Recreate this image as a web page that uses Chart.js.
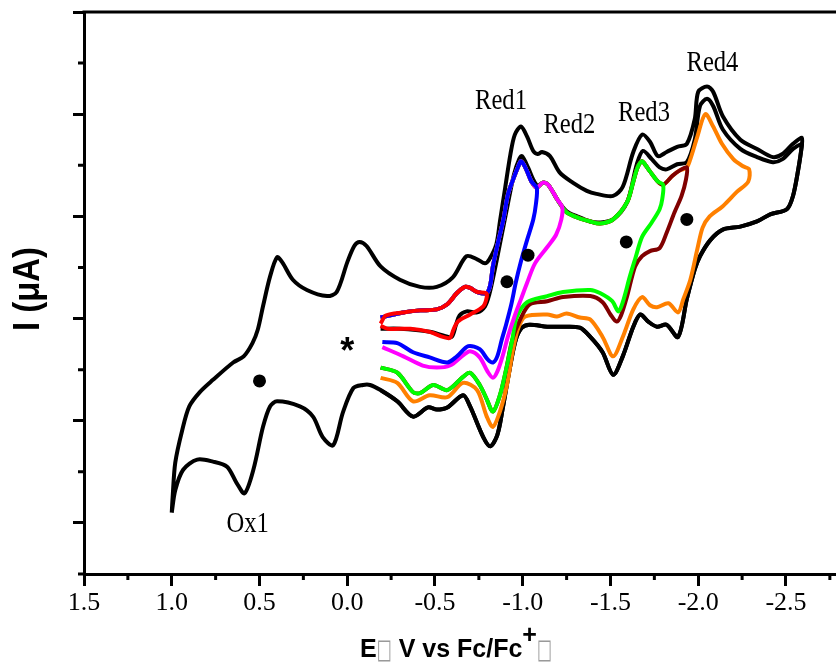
<!DOCTYPE html>
<html>
<head>
<meta charset="utf-8">
<script src="https://cdn.jsdelivr.net/npm/chart.js@4.4.0/dist/chart.umd.min.js"></script>
<style>
  html, body { margin: 0; padding: 0; background: #fff; overflow: hidden; }
  #cv { display: block; }
</style>
</head>
<body>
<canvas id="cv" width="836" height="668"></canvas>
<script>
// axis ticks (potential is plotted reversed, current has no labels)
const eTicks = [1.5, 1.0, 0.5, 0.0, -0.5, -1.0, -1.5, -2.0, -2.5];
const eMinor = [1.25, 0.75, 0.25, -0.25, -0.75, -1.25, -1.75, -2.25, -2.75];
const iTicks = [30, 20, 10, 0, -10, -20];
const iMinor = [25, 15, 5, -5, -15, -25];

// full scan (black, +1.0 V ... -2.6 V)
const fullUpperE = [1.00, 0.995, 0.98, 0.94, 0.90, 0.84, 0.765, 0.65, 0.59, 0.54, 0.51, 0.48, 0.44, 0.40, 0.37, 0.31, 0.23, 0.115, 0.06, 0.00, -0.04, -0.07, -0.11, -0.19, -0.30, -0.415, -0.51, -0.60, -0.68, -0.74, -0.785, -0.81, -0.85, -0.87, -0.90, -0.93, -0.955, -0.99, -1.025, -1.06, -1.085, -1.11, -1.155, -1.21, -1.285, -1.365, -1.42, -1.515, -1.57, -1.63, -1.68, -1.725, -1.77, -1.82, -1.88, -1.935, -1.98, -2.00, -2.05, -2.085, -2.14, -2.24, -2.335, -2.425, -2.48, -2.54, -2.59];
const fullUpperI = [-19.0, -17.5, -14.1, -10.9, -8.6, -7.2, -6.0, -4.3, -3.7, -2.4, -1.1, 1.2, 4.1, 6.0, 5.5, 3.8, 2.8, 2.2, 2.6, 5.5, 7.1, 7.5, 7.1, 5.1, 3.8, 3.1, 3.1, 4.0, 6.1, 5.8, 5.4, 5.8, 7.3, 9.5, 12.8, 16.1, 18.0, 18.8, 17.8, 16.4, 16.1, 16.3, 15.9, 14.3, 13.3, 12.5, 12.2, 12.0, 12.9, 16.3, 18.0, 17.3, 15.9, 16.3, 16.8, 17.1, 19.5, 22.2, 22.7, 22.2, 19.8, 17.5, 16.6, 15.8, 16.1, 17.1, 17.7];
const fullReturnE = [-2.59, -2.57, -2.54, -2.505, -2.41, -2.335, -2.24, -2.14, -2.07, -2.01, -1.98, -1.935, -1.885, -1.82, -1.765, -1.715, -1.67, -1.63, -1.57, -1.515, -1.455, -1.385, -1.325, -1.23, -1.14, -1.04, -0.995, -0.96, -0.925, -0.885, -0.855, -0.815, -0.775, -0.70, -0.66, -0.57, -0.51, -0.46, -0.375, -0.285, -0.19];
const fullReturnI = [16.9, 14.6, 12.0, 10.7, 10.2, 9.5, 9.0, 8.7, 7.7, 6.1, 4.8, 1.9, -1.8, -0.6, -0.8, -0.3, 0.4, -0.8, -3.7, -5.5, -3.3, -1.8, -0.9, -0.8, -0.8, -0.6, -0.9, -2.1, -5.0, -8.9, -11.4, -12.5, -11.6, -8.6, -7.5, -8.7, -8.9, -8.7, -9.6, -8.1, -7.0];
const fullLeftE = [-0.13, -0.09, -0.035, 0.025, 0.08, 0.14, 0.195, 0.27, 0.40, 0.44, 0.48, 0.535, 0.585, 0.63, 0.685, 0.765, 0.855, 0.935, 0.98, 1.00];
const fullLeftI = [-6.5, -6.5, -6.8, -9.2, -12.4, -11.6, -9.6, -8.6, -8.1, -8.6, -10.6, -14.8, -17.1, -16.1, -14.5, -14.0, -13.8, -14.8, -16.8, -19.0];

// second black scan from -0.19 V to -2.6 V (returns on the full scan)
const secondUpperE = [-0.19, -0.30, -0.47, -0.555, -0.595, -0.62, -0.64, -0.68, -0.74, -0.785, -0.81, -0.835, -0.87, -0.915, -0.95, -0.98, -0.995, -1.03, -1.06, -1.085, -1.115, -1.145, -1.195, -1.25, -1.31, -1.385, -1.44, -1.515, -1.595, -1.65, -1.685, -1.735, -1.78, -1.82, -1.88, -1.935, -1.98, -2.01, -2.05, -2.085, -2.14, -2.24, -2.335, -2.425, -2.48, -2.54, -2.59];
const secondUpperI = [-1.0, -1.0, -1.3, -1.7, -1.8, -0.6, 0.3, 0.7, 0.6, 1.2, 2.4, 4.3, 7.3, 11.2, 14.1, 15.6, 15.9, 14.8, 13.6, 13.0, 13.3, 13.1, 11.7, 10.5, 10.0, 9.5, 9.4, 9.7, 11.4, 15.1, 16.4, 15.6, 14.8, 14.6, 15.1, 15.3, 17.5, 20.8, 21.5, 20.8, 18.5, 16.6, 15.8, 15.3, 15.6, 16.6, 17.1];

// red: -0.19 V to -0.80 V
const redE = [-0.19, -0.22, -0.32, -0.415, -0.51, -0.57, -0.625, -0.67, -0.70, -0.74, -0.79, -0.795, -0.775, -0.70, -0.63, -0.605, -0.585, -0.545, -0.47, -0.36, -0.23, -0.19];
const redI = [-0.5, 0.3, 0.6, 0.8, 0.9, 1.4, 2.5, 3.1, 3.0, 2.6, 2.5, 2.1, 1.2, 0.4, -0.3, -1.1, -1.9, -1.8, -1.3, -1.0, -1.0, -0.7];

// common cathodic branch up to Red1
const scanForwardE = [-0.19, -0.32, -0.415, -0.51, -0.57, -0.625, -0.67, -0.70, -0.74, -0.795, -0.815, -0.83, -0.86, -0.89, -0.915, -0.945, -0.975, -0.99, -1.005, -1.025, -1.05, -1.08];
const scanForwardI = [0.1, 0.6, 0.8, 0.9, 1.4, 2.5, 3.1, 3.0, 2.6, 2.5, 3.3, 5.1, 7.5, 9.7, 12.1, 13.6, 14.9, 15.4, 15.1, 14.4, 13.4, 12.8];

// blue: switch at -1.08 V
const blueReturnE = [-1.075, -1.06, -1.025, -0.99, -0.96, -0.935, -0.905, -0.88, -0.855, -0.83, -0.80, -0.755, -0.69, -0.625, -0.57, -0.47, -0.375, -0.285, -0.20];
const blueReturnI = [11.2, 9.7, 7.7, 5.6, 3.5, 1.4, -0.6, -2.1, -3.7, -4.3, -4.0, -3.0, -2.7, -3.7, -4.3, -3.8, -3.3, -2.4, -2.3];

// cathodic branch Red2 .. Red3
const red3ForwardE = [-1.115, -1.145, -1.195, -1.225, -1.25, -1.31, -1.385, -1.44, -1.515, -1.595, -1.63, -1.655, -1.68, -1.70, -1.725, -1.77, -1.80];
const red3ForwardI = [13.3, 13.1, 11.7, 10.9, 10.4, 9.9, 9.5, 9.3, 9.7, 11.4, 13.4, 14.8, 15.4, 15.0, 14.4, 13.4, 13.1];

// magenta: switch at -1.23 V
const magentaReturnE = [-1.22, -1.19, -1.14, -1.07, -1.025, -0.99, -0.955, -0.915, -0.885, -0.855, -0.83, -0.80, -0.755, -0.70, -0.66, -0.585, -0.51, -0.43, -0.32, -0.20];
const magentaReturnI = [9.7, 8.2, 7.0, 5.4, 3.5, 1.9, 0.3, -1.8, -3.7, -5.2, -5.8, -5.2, -3.8, -3.2, -3.6, -4.6, -4.8, -4.6, -3.7, -2.8];

// green: switch at -1.80 V
const greenReturnE = [-1.795, -1.78, -1.735, -1.68, -1.64, -1.61, -1.57, -1.545, -1.51, -1.44, -1.385, -1.23, -1.14, -1.025, -0.965, -0.94, -0.905, -0.87, -0.83, -0.795, -0.755, -0.70, -0.66, -0.57, -0.49, -0.415, -0.375, -0.285, -0.19];
const greenReturnI = [11.7, 10.7, 9.4, 8.0, 5.8, 4.1, 1.6, 0.7, 1.7, 2.5, 2.8, 2.6, 2.2, 1.6, 0.1, -2.1, -5.0, -7.5, -9.1, -7.9, -6.5, -5.3, -5.7, -7.0, -6.5, -7.3, -7.2, -5.3, -4.8];

// dark red: switch at -1.94 V
const red4ForwardE = [-1.855, -1.895, -1.935];
const red4ForwardI = [14.0, 14.5, 14.8];
const maroonReturnE = [-1.93, -1.905, -1.865, -1.82, -1.78, -1.725, -1.68, -1.64, -1.595, -1.56, -1.535, -1.50, -1.455, -1.385, -1.23, -1.14, -1.04, -0.985, -0.94, -0.905, -0.87, -0.83, -0.795, -0.755, -0.70, -0.66, -0.57, -0.49, -0.415, -0.375, -0.285, -0.19];
const maroonReturnI = [13.6, 12.0, 10.4, 8.4, 6.9, 6.6, 6.1, 5.1, 2.2, 0.3, -0.3, 0.4, 1.6, 2.2, 2.1, 1.7, 1.4, -0.1, -2.1, -5.0, -7.5, -9.1, -7.9, -6.5, -5.3, -5.7, -7.0, -6.5, -7.3, -7.2, -5.3, -4.8];

// orange: switch at -2.29 V
const orangeForwardE = [-1.955, -1.995, -2.04, -2.085, -2.135, -2.20, -2.255, -2.29];
const orangeForwardI = [15.6, 17.8, 20.0, 18.8, 17.1, 15.6, 14.9, 14.6];
const orangeReturnE = [-2.285, -2.22, -2.14, -2.065, -2.025, -1.995, -1.955, -1.915, -1.885, -1.83, -1.765, -1.725, -1.68, -1.63, -1.57, -1.515, -1.455, -1.385, -1.325, -1.25, -1.195, -1.14, -1.015, -0.975, -0.945, -0.91, -0.87, -0.83, -0.795, -0.74, -0.66, -0.57, -0.47, -0.375, -0.285, -0.19];
const orangeReturnI = [13.4, 12.4, 11.0, 10.0, 8.9, 6.8, 3.8, 1.9, 0.6, 1.5, 1.1, 1.3, 2.1, 0.9, -1.8, -3.7, -1.8, -0.1, 0.1, 0.5, 0.2, 0.4, 0.2, -0.9, -3.0, -6.5, -9.1, -10.6, -9.6, -7.0, -6.3, -7.7, -7.5, -8.1, -6.3, -5.8];

// half-wave markers
const dotE = [0.50, -0.91, -1.03, -1.59, -1.935];
const dotI = [-6.1, 3.6, 6.2, 7.5, 9.7];

// peak names
const noteText = ['Red1', 'Red2', 'Red3', 'Red4', 'Ox1'];
const noteE = [-0.876, -1.266, -1.691, -2.081, 0.568];
const noteI = [20.5, 18.2, 19.3, 24.2, -20.9];
const starE = 0.0, starI = -2.35;

const pts = (E, I) => E.map((e, k) => ({x: e, y: I[k]}));
const cat = (...a) => [].concat(...a);

const curve = (label, E, I, color, order) => ({
  label: label,
  data: pts(E, I),
  showLine: true,
  borderColor: color,
  backgroundColor: color,
  borderWidth: 4,
  pointRadius: 0,
  tension: 0.3,
  order: order
});

const serif = "'Liberation Serif', 'Times New Roman', serif";
const sans = "'Liberation Sans', Arial, sans-serif";

var framePlugin = {
  id: 'frame',
  afterDraw(chart) {
    const ctx = chart.ctx, a = chart.chartArea;
    const xs = chart.scales.x, ys = chart.scales.y;
    ctx.save();
    ctx.strokeStyle = '#000';
    ctx.lineWidth = 3;
    ctx.beginPath();
    ctx.moveTo(a.left - 1.5, a.top);
    ctx.lineTo(a.right, a.top);
    eMinor.forEach(v => {
      const px = xs.getPixelForValue(v);
      ctx.moveTo(px, a.bottom);
      ctx.lineTo(px, a.bottom + 6);
    });
    iMinor.forEach(v => {
      const py = ys.getPixelForValue(v);
      ctx.moveTo(a.left, py);
      ctx.lineTo(a.left - 6, py);
    });
    ctx.stroke();
    ctx.restore();
  }
};

var textPlugin = {
  id: 'texts',
  afterDraw(chart) {
    const ctx = chart.ctx, a = chart.chartArea;
    const xs = chart.scales.x, ys = chart.scales.y;
    ctx.save();
    ctx.fillStyle = '#000';
    ctx.textBaseline = 'alphabetic';

    // peak labels
    ctx.textAlign = 'center';
    ctx.font = '30px ' + serif;
    noteText.forEach((t, k) => {
      const w = ctx.measureText(t).width;
      ctx.fillText(t, xs.getPixelForValue(noteE[k]), ys.getPixelForValue(noteI[k]), w * 0.82);
    });

    // asterisk
    ctx.font = 'bold 36px ' + sans;
    ctx.fillText('*', xs.getPixelForValue(starE), ys.getPixelForValue(starI) + 20);

    // x title
    const parts = [
      {t: 'E', font: 'bold 25px ' + sans, color: '#000', dy: 0},
      {t: '\u25A1', font: "27px 'DejaVu Sans'", color: '#999', dy: 1, w: 15},
      {t: ' V vs Fc/Fc', font: 'bold 25px ' + sans, color: '#000', dy: 0, w: 132},
      {t: '+', font: 'bold 25px ' + sans, color: '#000', dy: -14, w: 15},
      {t: '\u25A1', font: "27px 'DejaVu Sans'", color: '#999', dy: 1, w: 15}
    ];
    let total = 0;
    parts.forEach(p => {
      ctx.font = p.font;
      p.width = Math.min(ctx.measureText(p.t).width, p.w || 1e9);
      total += p.width;
    });
    let px = (a.left + a.right) / 2 - 4 - total / 2;
    const base = 657;
    ctx.textAlign = 'left';
    parts.forEach(p => {
      ctx.font = p.font;
      ctx.fillStyle = p.color;
      ctx.fillText(p.t, px, base + p.dy, p.width);
      px += p.width;
    });

    // y title
    ctx.fillStyle = '#000';
    ctx.font = 'bold 36px ' + sans;
    ctx.translate(39, 289);
    ctx.rotate(-Math.PI / 2);
    ctx.textAlign = 'center';
    ctx.fillText('I (\u03BCA)', 0, 0, 84);
    ctx.restore();
  }
};

new Chart(document.getElementById('cv'), {
  type: 'scatter',
  data: {
    datasets: [
      {label: 'markers', data: pts(dotE, dotI), pointRadius: 6.5, pointBackgroundColor: '#000', pointBorderWidth: 0, showLine: false, order: 0},
      curve('to -0.80 V', redE, redI, '#ff0000', 1),
      curve('to -1.08 V', cat(scanForwardE, blueReturnE), cat(scanForwardI, blueReturnI), '#0000ff', 2),
      curve('to -1.23 V', cat(scanForwardE, red3ForwardE.slice(0, 4), magentaReturnE), cat(scanForwardI, red3ForwardI.slice(0, 4), magentaReturnI), '#ff00ff', 3),
      curve('to -1.80 V', cat(scanForwardE, red3ForwardE, greenReturnE), cat(scanForwardI, red3ForwardI, greenReturnI), '#00ff00', 4),
      curve('to -1.94 V', cat(scanForwardE, red3ForwardE, red4ForwardE, maroonReturnE), cat(scanForwardI, red3ForwardI, red4ForwardI, maroonReturnI), '#800000', 5),
      curve('to -2.29 V', cat(scanForwardE, red3ForwardE, red4ForwardE, orangeForwardE, orangeReturnE), cat(scanForwardI, red3ForwardI, red4ForwardI, orangeForwardI, orangeReturnI), '#ff8000', 6),
      curve('to -2.6 V', cat(secondUpperE, fullReturnE), cat(secondUpperI, fullReturnI), '#000', 7),
      curve('full scan', cat(fullUpperE, fullReturnE, fullLeftE), cat(fullUpperI, fullReturnI, fullLeftI), '#000', 8)
    ]
  },
  options: {
    responsive: false,
    animation: false,
    devicePixelRatio: 1,
    layout: { autoPadding: false, padding: { top: 12, right: 0, bottom: 0, left: 0 } },
    plugins: {
      legend: { display: false },
      tooltip: { enabled: false }
    },
    scales: {
      x: {
        type: 'linear',
        min: -2.785,
        max: 1.5,
        reverse: true,
        afterBuildTicks: s => { s.ticks = eTicks.map(v => ({value: v})); },
        afterFit: s => { s.height = 94; s.paddingLeft = 0; s.paddingRight = 0; },
        ticks: {
          callback: v => Number(v).toFixed(1),
          font: { family: serif, size: 26 },
          color: '#000',
          padding: 2,
          maxRotation: 0,
          autoSkip: false
        },
        grid: { drawOnChartArea: false, tickLength: 12, tickWidth: 3, tickColor: '#000' },
        border: { width: 3, color: '#000' }
      },
      y: {
        type: 'linear',
        min: -25,
        max: 30,
        afterBuildTicks: s => { s.ticks = iTicks.map(v => ({value: v})); },
        afterFit: s => { s.width = 84; s.paddingTop = 0; s.paddingBottom = 0; },
        ticks: { display: false },
        grid: { drawOnChartArea: false, tickLength: 11, tickWidth: 3, tickColor: '#000' },
        border: { width: 3, color: '#000' }
      }
    }
  },
  plugins: [framePlugin, textPlugin]
});
</script>
</body>
</html>
